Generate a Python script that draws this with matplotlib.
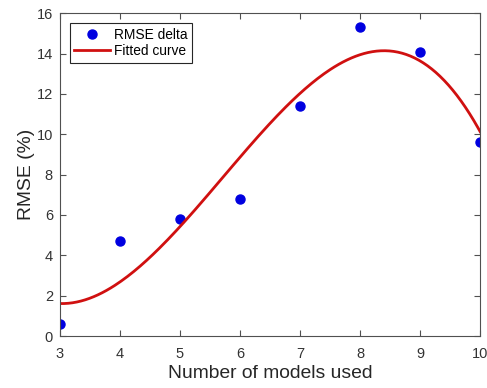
import numpy as np
import matplotlib.pyplot as plt

plt.rcParams['font.family'] = ['Liberation Sans', 'DejaVu Sans']

# number of models vs RMSE delta (%)
n_models = [3, 4, 5, 6, 7, 8, 9, 10]
rmse_delta = [0.6, 4.7, 5.8, 6.8, 11.4, 15.3, 14.1, 9.6]

# cubic fit through the measured points
coef = np.polyfit(n_models, rmse_delta, 3)
xs = np.linspace(3, 10, 200)
ys = np.polyval(coef, xs)

fig = plt.figure(figsize=(4.87, 3.88), dpi=100)
ax = fig.add_axes([0.123, 0.134, 0.863, 0.832])

ax.plot(n_models, rmse_delta, 'o', color='#0000e0', markersize=6.5, label='RMSE delta')
ax.plot(xs, ys, '-', color='#d01010', linewidth=2, label='Fitted curve')

ax.set_xlim(3, 10)
ax.set_ylim(0, 16)
ax.set_xticks(range(3, 11))
ax.set_yticks(range(0, 17, 2))
ax.tick_params(direction='in', top=True, right=True, length=4, width=0.8,
               colors='#505050', labelsize=10.5, labelcolor='#333333')
ax.tick_params(axis='x', pad=8)
ax.tick_params(axis='y', pad=5)
for s in ax.spines.values():
    s.set_color('#505050')
    s.set_linewidth(0.8)

ax.set_xlabel('Number of models used', fontsize=13.9, color='#262626', labelpad=3)
ax.set_ylabel('RMSE (%)', fontsize=13.9, color='#262626', labelpad=1)

leg = ax.legend(loc='upper left', fontsize=9.9, fancybox=False, framealpha=1,
                edgecolor='#262626', handlelength=2.6, borderpad=0.35,
                handletextpad=0.25, labelspacing=0.15, borderaxespad=0.7)
leg.get_frame().set_linewidth(0.8)

fig.savefig('out.png', dpi=100)
